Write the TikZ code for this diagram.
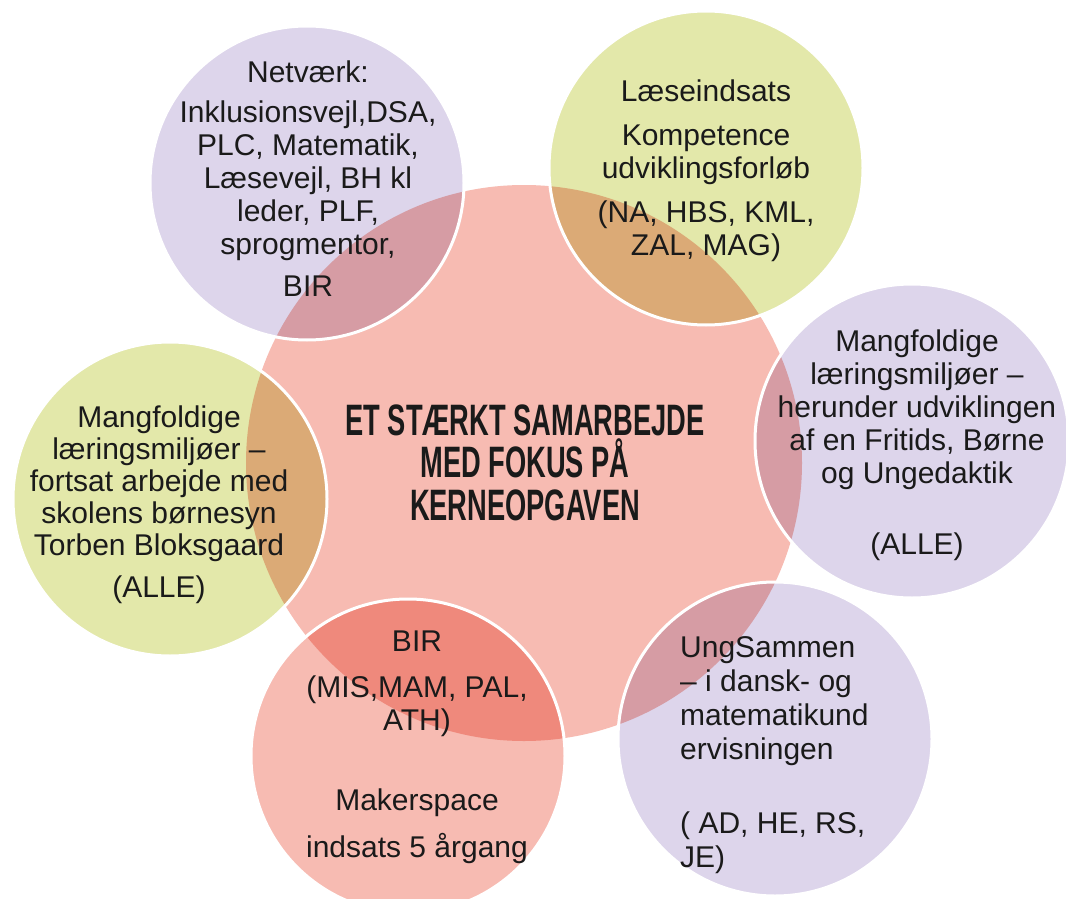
\documentclass[tikz,border=0pt]{standalone}
\usepackage{fontspec}
\setmainfont{Liberation Sans}
\newfontfamily\titlefont{Liberation Sans}[FakeStretch=0.62]
\definecolor{purp}{HTML}{DDD5EB}
\definecolor{grn}{HTML}{E3E8AA}
\definecolor{pinkc}{HTML}{F7BBB2}
\definecolor{textc}{HTML}{1A1A1A}
\begin{document}
\begin{tikzpicture}[x=1pt,y=-1pt,
  sat/.style={circle, minimum size=314pt, inner sep=0pt, draw=none},
  ring/.style={draw=white, line width=3pt},
  txt/.style={align=center, inner sep=0pt, text=textc, anchor=north,
    font=\fontsize{30}{33}\selectfont},
]
\useasboundingbox (0,0) rectangle (1066,899);
\fill[white] (0,0) rectangle (1066,899);
% central circle
\node[circle, minimum size=556pt, inner sep=0pt, fill=pinkc] (core) at (524,463) {};
% satellites
\begin{scope}[blend mode=multiply]
\node[sat, fill=purp]  (tl) at (307,183) {};
\node[sat, fill=grn]   (tr) at (706,168) {};
\node[sat, fill=purp]  (rr) at (912,441) {};
\node[sat, fill=purp]  (br) at (775,739) {};
\node[sat, fill=pinkc] (bb) at (408,756) {};
\node[sat, fill=grn]   (ll) at (170,499) {};
\end{scope}
\foreach \n in {tl,tr,rr,br,bb,ll} \draw[ring] (\n.center) circle (157pt);
% title
\node[align=center, inner sep=0pt, anchor=north, text=textc,
  font=\titlefont\bfseries\fontsize{44}{42.5}\selectfont] (title) at (525,404.5)
  {ET STÆRKT SAMARBEJDE\\MED FOKUS PÅ\\KERNEOPGAVEN};
% texts
\node[txt] (ttl) at (308,61) {Netværk:\\[7pt]Inklusionsvejl,DSA,\\PLC, Matematik,\\Læsevejl, BH kl\\leder, PLF,\\sprogmentor,\\[9pt]BIR};
\node[txt] (ttr) at (706,80) {Læseindsats\\[11pt]Kompetence\\udviklingsforløb\\[11pt](NA, HBS, KML,\\ZAL, MAG)};
\node[txt] (trr) at (917,330) {Mangfoldige\\læringsmiljøer –\\herunder udviklingen\\af en Fritids, Børne\\og Ungedaktik\\[38pt](ALLE)};
\node[txt, font=\fontsize{30}{32}\selectfont] (tll) at (159,406) {Mangfoldige\\læringsmiljøer –\\fortsat arbejde med\\skolens børnesyn\\Torben Bloksgaard\\[10pt](ALLE)};
\node[txt] (tbb) at (417,630.5) {BIR\\[13pt](MIS,MAM, PAL,\\ATH)\\[47pt]Makerspace\\[14pt]indsats 5 årgang};
\node[txt, align=left, anchor=north west, font=\fontsize{30}{34}\selectfont] (tbr) at (680,636) {UngSammen\\– i dansk- og\\matematikund\\ervisningen\\[40pt]( AD, HE, RS,\\JE)};
\end{tikzpicture}
\end{document}
